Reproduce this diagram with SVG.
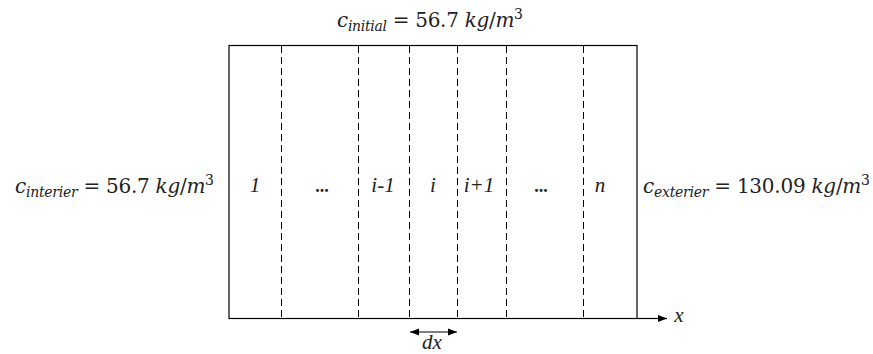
<svg xmlns="http://www.w3.org/2000/svg" width="873" height="354" viewBox="0 0 873 354">
<defs>
<style>
.ln{stroke:#000;stroke-width:1.2;fill:none}
.ds{stroke:#000;stroke-width:1;stroke-dasharray:7,4;fill:none}
.m{font-family:'DejaVu Serif','Liberation Serif',serif;font-size:20px;fill:#222}
.i{font-style:italic}
.sub{font-size:14px}
.cell{font-family:'Liberation Serif','DejaVu Serif',serif;font-size:21px;font-style:italic;fill:#222;text-anchor:middle}
.dots{font-style:normal;font-weight:bold;font-size:18px}
</style>
<marker id="ah" viewBox="0 0 10 10" refX="10" refY="5" markerWidth="10" markerHeight="9" markerUnits="userSpaceOnUse" orient="auto-start-reverse">
<path d="M0,1 L10,5 L0,9 z" fill="#000"/>
</marker>
</defs>
<g id="box">
<rect class="ln" x="229" y="45.5" width="408" height="273"/>
</g>
<g id="connectors">
<line class="ds" x1="281.5" y1="46" x2="281.5" y2="318"/>
<line class="ds" x1="358.5" y1="46" x2="358.5" y2="318"/>
<line class="ds" x1="409.5" y1="46" x2="409.5" y2="318"/>
<line class="ds" x1="457.5" y1="46" x2="457.5" y2="318"/>
<line class="ds" x1="506.5" y1="46" x2="506.5" y2="318"/>
<line class="ds" x1="583.5" y1="46" x2="583.5" y2="318"/>
<line class="ln" x1="637" y1="318.5" x2="667" y2="318.5" marker-end="url(#ah)"/>
<line class="ln" x1="410" y1="332" x2="457" y2="332" marker-start="url(#ah)" marker-end="url(#ah)"/>
</g>
<g id="cells">
<text class="cell" x="255" y="192">1</text>
<text class="cell dots" x="322" y="192">...</text>
<text class="cell" x="383" y="192">i-1</text>
<text class="cell" x="433" y="192">i</text>
<text class="cell" x="479" y="192">i+1</text>
<text class="cell dots" x="541" y="192">...</text>
<text class="cell" x="600" y="192">n</text>
</g>
<g id="labels">
<text class="m" x="337" y="27" textLength="186"><tspan class="i">c</tspan><tspan class="i sub" dy="4">initial</tspan><tspan dy="-4"> = 56.7 </tspan><tspan class="i">kg</tspan>/<tspan class="i">m</tspan><tspan class="sub" dy="-8">3</tspan></text>
<text class="m" x="15" y="193" textLength="199"><tspan class="i">c</tspan><tspan class="i sub" dy="4">interier</tspan><tspan dy="-4"> = 56.7 </tspan><tspan class="i">kg</tspan>/<tspan class="i">m</tspan><tspan class="sub" dy="-8">3</tspan></text>
<text class="m" x="643" y="193" textLength="227"><tspan class="i">c</tspan><tspan class="i sub" dy="4">exterier</tspan><tspan dy="-4"> = 130.09 </tspan><tspan class="i">kg</tspan>/<tspan class="i">m</tspan><tspan class="sub" dy="-8">3</tspan></text>
<text class="cell" x="679" y="322">x</text>
<text class="cell" x="432" y="349">dx</text>
</g>
</svg>
